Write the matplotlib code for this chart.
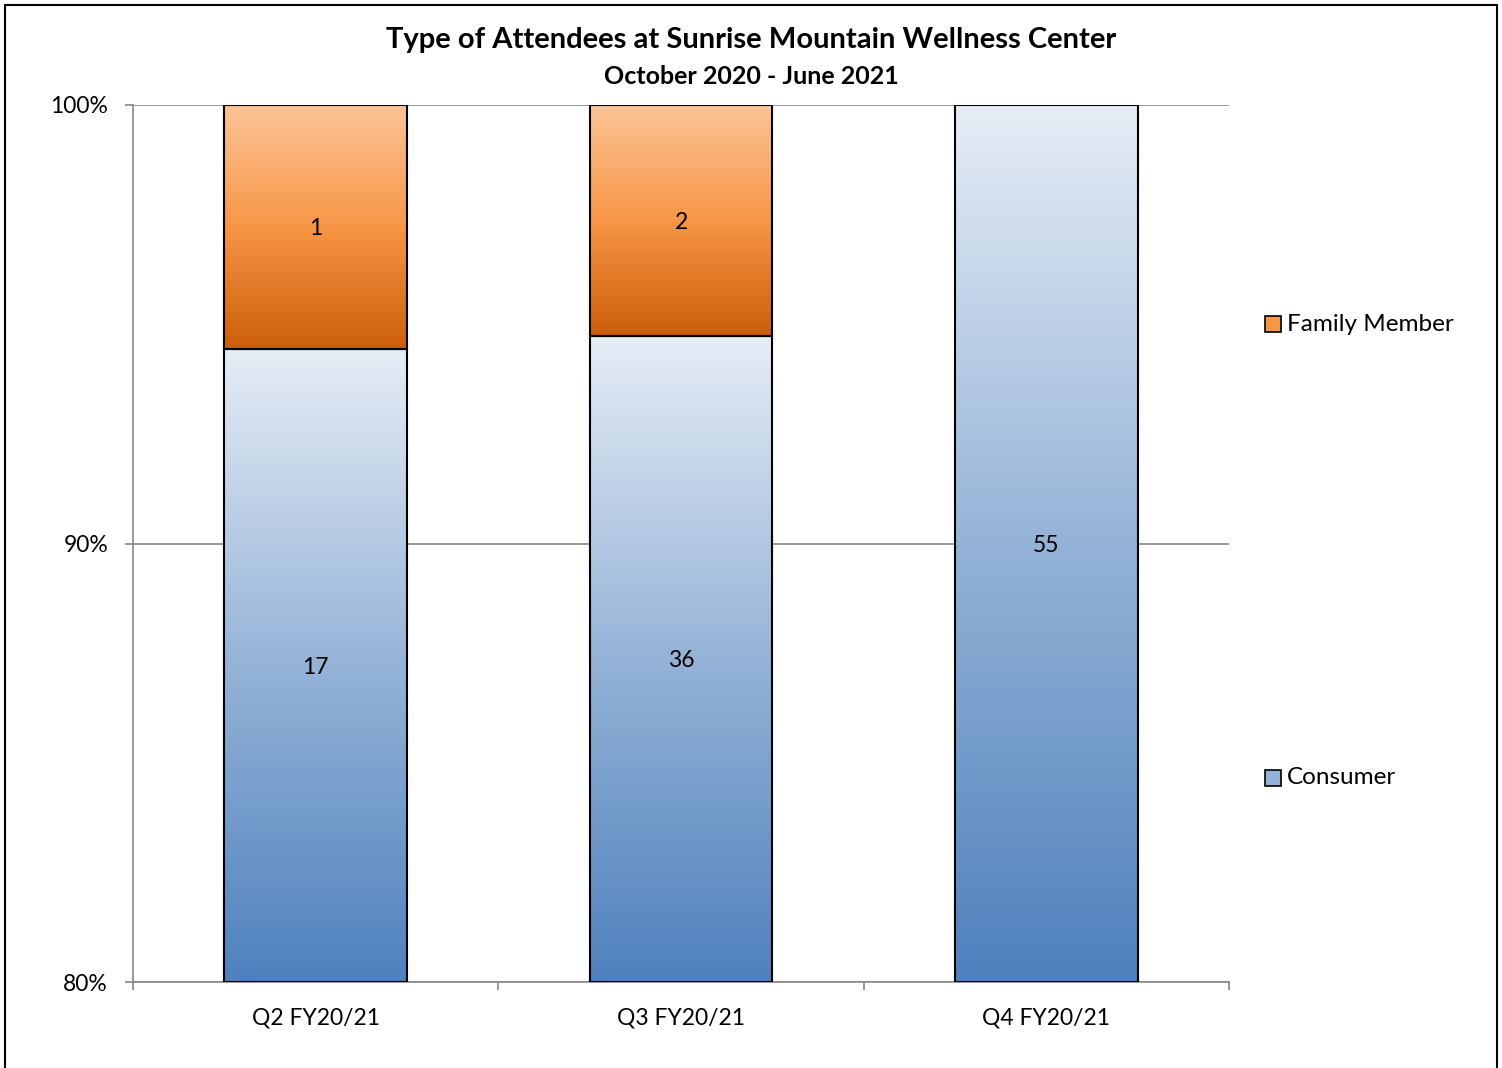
import matplotlib.pyplot as plt
import numpy as np
from matplotlib.colors import LinearSegmentedColormap
from matplotlib.patches import Rectangle

plt.rcParams['font.family'] = ['Lato', 'DejaVu Sans']

# data
quarters = ['Q2 FY20/21', 'Q3 FY20/21', 'Q4 FY20/21']
consumer = [17, 36, 55]
family = [1, 2, 0]

blue_cmap = LinearSegmentedColormap.from_list('blue', ['#4F81BD', '#95B3D7', '#E6EDF6'])
orange_cmap = LinearSegmentedColormap.from_list('orange', ['#CC5E0A', '#F79646', '#FBC497'])


def grad_bar(ax, x, bottom, top, cmap, width=0.5, ymin=80):
    lo = max(bottom, ymin)
    if top <= lo:
        return
    grad = np.linspace(0, 1, 256).reshape(-1, 1)
    ax.imshow(grad, extent=[x - width / 2, x + width / 2, lo, top], origin='lower',
              aspect='auto', cmap=cmap, zorder=2)
    ax.add_patch(Rectangle((x - width / 2, lo), width, top - lo, facecolor='none',
                           edgecolor='black', linewidth=1.5, zorder=3))


fig = plt.figure(figsize=(15.02, 10.68), dpi=100)
ax = fig.add_axes([0.0886, 0.0805, 0.7297, 0.8212])

for i in range(len(quarters)):
    total = consumer[i] + family[i]
    c_pct = consumer[i] / total * 100
    f_pct = family[i] / total * 100
    grad_bar(ax, i, 0, c_pct, blue_cmap)
    ax.text(i, (80 + c_pct) / 2, str(consumer[i]), ha='center', va='center_baseline',
            fontsize=16.5, zorder=4)
    if family[i] > 0:
        grad_bar(ax, i, c_pct, c_pct + f_pct, orange_cmap)
        ax.text(i, c_pct + f_pct / 2, str(family[i]), ha='center', va='center_baseline',
                fontsize=16.5, zorder=4)

ax.set_xlim(-0.5, 2.5)
ax.set_ylim(80, 100)
ax.set_yticks([80, 90, 100])
ax.set_yticklabels(['80%', '90%', '100%'], fontsize=16.5)
ax.set_xticks([-0.5, 0.5, 1.5, 2.5])
ax.set_xticklabels([])
ax.set_xticks(range(3), minor=True)
ax.set_xticklabels(quarters, minor=True, fontsize=16.5)
ax.tick_params(axis='x', which='minor', length=0, pad=18)
ax.tick_params(axis='both', which='major', length=6, color='#888888', width=1.2)
ax.tick_params(axis='y', pad=12)
ax.yaxis.grid(True, color='#888888', linewidth=1.2, zorder=0)
ax.set_axisbelow(True)
for s in ['top', 'right']:
    ax.spines[s].set_visible(False)
for s in ['left', 'bottom']:
    ax.spines[s].set_color('#888888')
    ax.spines[s].set_linewidth(1.2)

fig.text(0.5, 1 - 40 / 1068, 'Type of Attendees at Sunrise Mountain Wellness Center',
         ha='center', va='center', fontsize=21, fontweight='bold')
fig.text(0.5, 1 - 76 / 1068, 'October 2020 - June 2021', ha='center', va='center',
         fontsize=18, fontweight='bold')

# legend
for label, color, ypx in [('Family Member', '#F79646', 324), ('Consumer', '#95B3D7', 778)]:
    yf = 1 - ypx / 1068
    fig.add_artist(Rectangle((1265 / 1502, yf - 8 / 1068), 16 / 1502, 16 / 1068,
                             transform=fig.transFigure, facecolor=color,
                             edgecolor='black', linewidth=1.2))
    fig.text(1287 / 1502, yf, label, ha='left', va='center', fontsize=17.5)

# outer border
fig.add_artist(Rectangle((5 / 1502, -0.01), 1492 / 1502, 1 - 5 / 1068 + 0.01,
                         transform=fig.transFigure, facecolor='none',
                         edgecolor='black', linewidth=1.5))

fig.savefig('out.png', dpi=100)
